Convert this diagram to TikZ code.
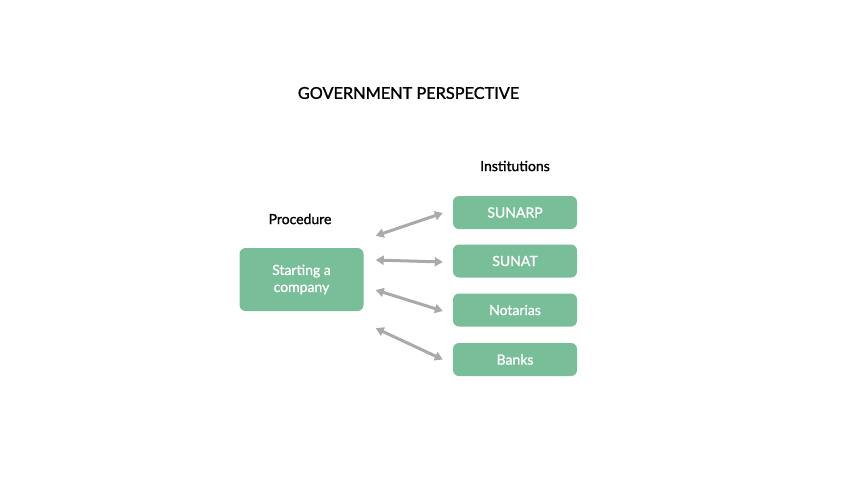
\documentclass[tikz,border=0pt]{standalone}
\usepackage{fontspec}
\setmainfont{Lato}
\newfontfamily\medfont[FakeBold=1.2]{Lato}
\usetikzlibrary{arrows.meta,calc}
\definecolor{boxgreen}{RGB}{120,190,152}
\definecolor{arrowgrey}{RGB}{170,170,170}
\tikzset{
  gbox/.style={draw=none, fill=boxgreen, rounded corners=6pt, text=white, font=\medfont\fontsize{14}{17}\selectfont, align=center, inner sep=0pt},
  link/.style={draw=arrowgrey, line width=3pt, {Triangle[length=8pt,width=9pt]}-{Triangle[length=8pt,width=9pt]}},
  lbl/.style={font=\medfont\fontsize{14}{17}\selectfont, text=black}
}
\begin{document}
\begin{tikzpicture}[x=1pt,y=-1pt]
\useasboundingbox (0,0) rectangle (853,480);
\node[font=\medfont\fontsize{16.3}{20}\selectfont] (title) at (408.5,93) {GOVERNMENT PERSPECTIVE};
\node[lbl] (inst) at (515,166) {Institutions};
\node[lbl] (proc) at (300,219) {Procedure};
\node[gbox, minimum width=124pt, minimum height=63pt] (start) at (301.5,279.5) {Starting a\\company};
\node[gbox, minimum width=124pt, minimum height=33pt] (sunarp) at (515,212.5) {SUNARP};
\node[gbox, minimum width=124pt, minimum height=33pt] (sunat) at (515,261) {SUNAT};
\node[gbox, minimum width=124pt, minimum height=33pt] (notarias) at (515,310) {Notarias};
\node[gbox, minimum width=124pt, minimum height=33pt] (banks) at (515,359.5) {Banks};
\draw[link] ($(start.north east)+(12,-12)$) -- ($(sunarp.west)+(-10,0.5)$);
\draw[link] ($(start.east)+(12,-19.5)$) -- ($(sunat.west)+(-10,1)$);
\draw[link] ($(start.east)+(12,10.5)$) -- ($(notarias.west)+(-10,1)$);
\draw[link] ($(start.south east)+(12,17)$) -- ($(banks.west)+(-10,0)$);
\end{tikzpicture}
\end{document}
